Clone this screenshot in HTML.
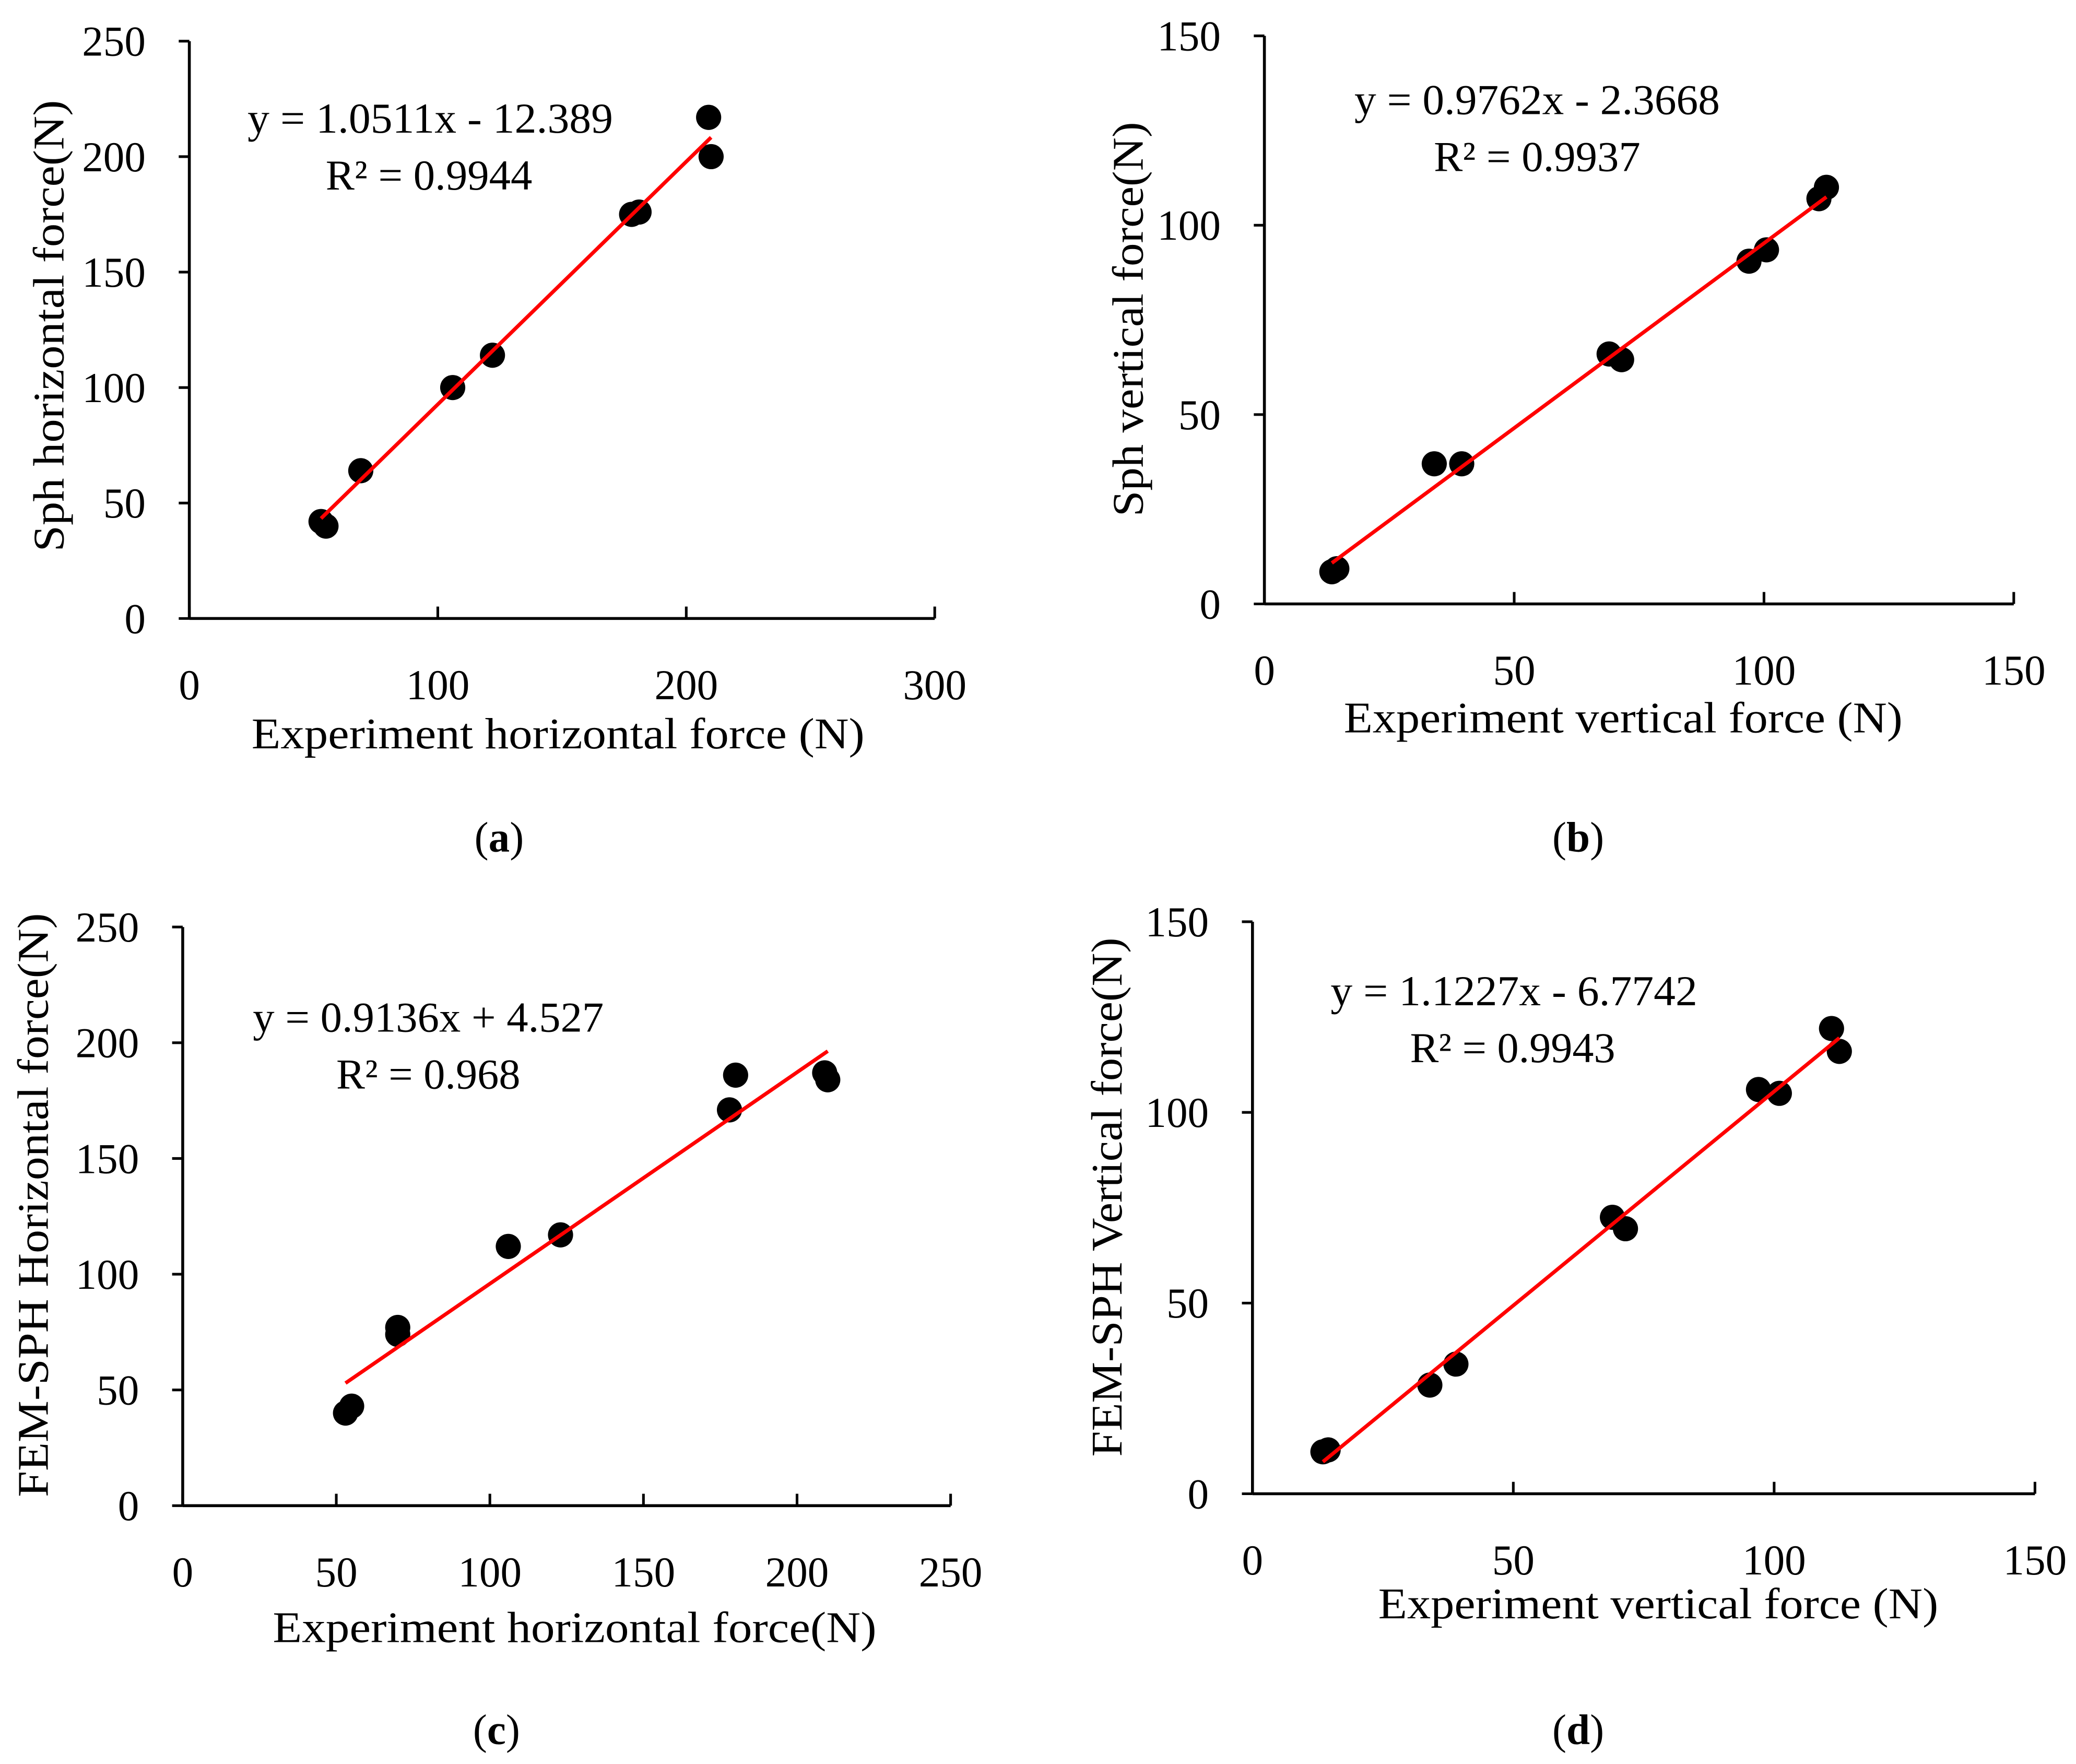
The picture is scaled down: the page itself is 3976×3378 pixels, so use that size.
<!DOCTYPE html>
<html><head><meta charset="utf-8">
<style>
html,body{margin:0;padding:0;background:#fff;}
svg{display:block;}
text{font-family:"Liberation Serif",serif;fill:#000;}
</style></head>
<body>
<svg id="fig" width="3976" height="3378" viewBox="0 0 1568 1332" xmlns="http://www.w3.org/2000/svg"></svg>
<script>
// Panel (a)
const aX = [53, 55, 69, 106, 122, 178, 181, 209, 210];
const aY = [42, 40, 64, 100, 114, 175, 176, 217, 200];
const aFit = [1.0511, -12.389];
const aXTicks = [0, 100, 200, 300];
const aYTicks = [0, 50, 100, 150, 200, 250];
// Panel (b)
const bX = [13.5, 14.5, 34, 39.5, 69, 71.5, 97, 100.5, 111, 112.5];
const bY = [8.5, 9.3, 37, 37, 66, 64.5, 90.5, 93.5, 107, 110];
const bFit = [0.9762, -2.3668];
const bXTicks = [0, 50, 100, 150];
const bYTicks = [0, 50, 100, 150];
// Panel (c)
const cX = [53, 55, 70, 70, 106, 123, 178, 180, 209, 210];
const cY = [40, 43, 77, 74, 112, 117, 171, 186, 187, 184];
const cFit = [0.9136, 4.527];
const cXTicks = [0, 50, 100, 150, 200, 250];
const cYTicks = [0, 50, 100, 150, 200, 250];
// Panel (d)
const dX = [13.5, 14.5, 34, 39, 69, 71.5, 97, 101, 111, 112.5];
const dY = [11, 11.5, 28.5, 34, 72.5, 69.5, 106, 105, 122, 116];
const dFit = [1.1227, -6.7742];
const dXTicks = [0, 50, 100, 150];
const dYTicks = [0, 50, 100, 150];

const NS = "http://www.w3.org/2000/svg";
const svg = document.getElementById('fig');
function mk(tag, attrs, parent, txt){
  const e = document.createElementNS(NS, tag);
  for (const k in attrs) e.setAttribute(k, attrs[k]);
  if (txt !== undefined) e.textContent = txt;
  (parent || svg).appendChild(e);
  return e;
}
function panel(p){
  const g = mk('g', {});
  
  
  const sx = v => p.x0 + (v - p.xmin) / (p.xmax - p.xmin) * (p.x1 - p.x0);
  const sy = v => p.y0 - (v - p.ymin) / (p.ymax - p.ymin) * (p.y0 - p.y1);
  const ya = mk('line', {x1:p.x0, y1:p.y0, x2:p.x0, y2:p.y1, stroke:'#000','stroke-width':2.2}, g);
  
  
  const xa = mk('line', {x1:p.x0, y1:p.y0, x2:p.x1, y2:p.y0, stroke:'#000','stroke-width':2.2}, g);
  
  
  p.yt.forEach(v => {
    const y = sy(v);
    mk('line', {x1:p.x0-8, y1:y, x2:p.x0, y2:y, stroke:'#000','stroke-width':2}, g);
    const t = mk('text', {x:p.x0-33, y:y+11, 'text-anchor':'end','font-size':32}, g, String(v));
    
    
  });
  p.xt.forEach(v => {
    const x = sx(v);
    mk('line', {x1:x, y1:p.y0, x2:x, y2:p.y0-9, stroke:'#000','stroke-width':2}, g);
    const t = mk('text', {x:x, y:p.y0+61, 'text-anchor':'middle','font-size':32}, g, String(v));
    
    
  });
  for (let i = 0; i < p.xs.length; i++){
    const c = mk('ellipse', {cx:sx(p.xs[i]), cy:sy(p.ys[i]), rx:9.5, ry:9.5, fill:'#000'}, g);
    
    
  }
  const lx0 = Math.min(...p.xs), lx1 = Math.max(...p.xs);
  const tl = mk('line', {x1:sx(lx0), y1:sy(p.fit[0]*lx0+p.fit[1]), x2:sx(lx1), y2:sy(p.fit[0]*lx1+p.fit[1]), stroke:'#ff0000','stroke-width':2.8}, g);
  
  
  const e1 = mk('text', {x:p.eqx, y:p.eqy, 'font-size':32, textLength:p.eqw, lengthAdjust:'spacingAndGlyphs'}, g, p.eq);
  
  
  const e2 = mk('text', {x:p.rx, y:p.eqy+43, 'font-size':32, textLength:p.rw, lengthAdjust:'spacingAndGlyphs'}, g, 'R² = ' + p.r2);
  
  
  const xt = mk('text', {x:p.xtx, y:p.xty, 'font-size':33, textLength:p.xtw, lengthAdjust:'spacingAndGlyphs'}, g, p.xtitle);
  
  
  const yt = mk('text', {x:0, y:0, 'text-anchor':'middle','font-size':33, textLength:p.ytw, lengthAdjust:'spacingAndGlyphs', transform:'translate('+p.ytx+','+p.yty+') rotate(-90)'}, g, p.ytitle);
  
  
  const lab = mk('text', {x:p.labx, y:p.laby, 'text-anchor':'middle','font-size':32}, g);
  
  
  mk('tspan', {}, lab, '(');
  mk('tspan', {'font-weight':'bold'}, lab, p.id);
  mk('tspan', {}, lab, ')');
}
panel({id:'a', x0:143, x1:706, y0:467, y1:31, xmin:0, xmax:300, ymin:0, ymax:250, xs:aX, ys:aY, fit:aFit, xt:aXTicks, yt:aYTicks,
  eq:'y = 1.0511x - 12.389', r2:'0.9944', eqx:187, eqw:276, rx:246, rw:156, eqy:100, xtitle:'Experiment horizontal force (N)', xtx:190, xtw:463, xty:565,
  ytitle:'Sph horizontal force(N)', ytx:48, yty:246, ytw:341, labx:377, laby:643});
panel({id:'b', x0:955, x1:1521, y0:456, y1:27, xmin:0, xmax:150, ymin:0, ymax:150, xs:bX, ys:bY, fit:bFit, xt:bXTicks, yt:bYTicks,
  eq:'y = 0.9762x - 2.3668', r2:'0.9937', eqx:1023, eqw:276, rx:1083, rw:156, eqy:86, xtitle:'Experiment vertical force (N)', xtx:1015, xtw:422, xty:553,
  ytitle:'Sph vertical force(N)', ytx:863, yty:241, ytw:298, labx:1192, laby:643});
panel({id:'c', x0:138, x1:718, y0:1137, y1:700, xmin:0, xmax:250, ymin:0, ymax:250, xs:cX, ys:cY, fit:cFit, xt:cXTicks, yt:cYTicks,
  eq:'y = 0.9136x + 4.527', r2:'0.968', eqx:191, eqw:265, rx:254, rw:139, eqy:779, xtitle:'Experiment horizontal force(N)', xtx:206, xtw:456, xty:1240,
  ytitle:'FEM-SPH Horizontal force(N)', ytx:36, yty:910, ytw:441, labx:375, laby:1317});
panel({id:'d', x0:946, x1:1537, y0:1128, y1:696, xmin:0, xmax:150, ymin:0, ymax:150, xs:dX, ys:dY, fit:dFit, xt:dXTicks, yt:dYTicks,
  eq:'y = 1.1227x - 6.7742', r2:'0.9943', eqx:1005, eqw:277, rx:1065, rw:155, eqy:759, xtitle:'Experiment vertical force (N)', xtx:1041, xtw:423, xty:1222,
  ytitle:'FEM-SPH Vertical force(N)', ytx:847, yty:904, ytw:392, labx:1192, laby:1317});
</script>
</body></html>
